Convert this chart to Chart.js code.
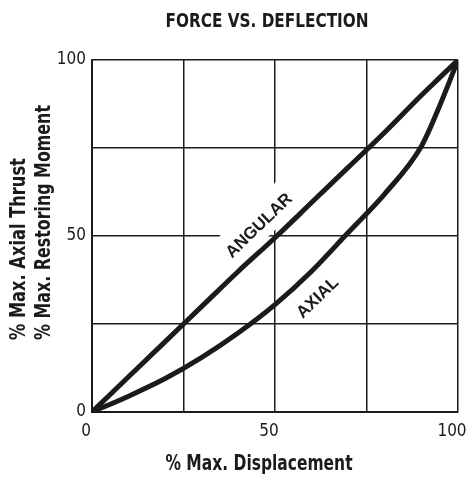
<!DOCTYPE html>
<html lang="en">
<head>
<meta charset="UTF-8">
<title>Force vs. Deflection</title>
<script src="https://cdn.jsdelivr.net/npm/chart.js@4.4.1/dist/chart.umd.min.js"></script>
<style>
  html, body { margin: 0; padding: 0; background: #fff; }
</style>
</head>
<body>
<canvas id="grafica" width="467" height="477"></canvas>
<script>
// valores (% de maximo)
const displacement = [0, 10, 20, 30, 40, 50, 60, 70, 80, 90, 95, 100];
const angular = [0, 10, 20, 30, 40, 49.5, 59.5, 69.5, 79.5, 90, 95, 100];
const axial = [0, 4.5, 9.5, 15.5, 22.5, 30.5, 40, 51, 62, 75.5, 87, 100];
const tickValues = [0, 50, 100];

const titleText = 'FORCE VS. DEFLECTION';
const xTitle = '% Max. Displacement';
const yTitle = ['% Max. Axial Thrust', '% Max. Restoring Moment'];
const curveNames = ['ANGULAR', 'AXIAL'];

const ink = '#1b1b1b';
const narrow = '"DejaVu Sans Condensed", "Liberation Sans Narrow", sans-serif';

function toPoints(ys) {
  return displacement.map((d, i) => ({ x: d, y: ys[i] }));
}

// texto estrechado a mano (no hay fuente condensada de verdad)
function squeezeText(ctx, text, x, y, sx) {
  ctx.save();
  ctx.translate(x, y);
  ctx.scale(sx, 1);
  ctx.fillText(text, 0, 0);
  ctx.restore();
}

// textos: titulo, titulos de ejes y etiquetas de las curvas
const textPlugin = {
  id: 'chartText',
  beforeDatasetsDraw(chart) {
    // fondo blanco detras de ANGULAR (tapa la reticula)
    const { ctx, scales: { x, y } } = chart;
    const ang = Math.atan2(y.getPixelForValue(100) - y.getPixelForValue(0), x.getPixelForValue(100) - x.getPixelForValue(0));
    ctx.save();
    ctx.translate(x.getPixelForValue(45.7), y.getPixelForValue(52.9));
    ctx.rotate(ang);
    ctx.fillStyle = '#fff';
    ctx.fillRect(-45, -20, 90, 34);
    ctx.restore();
  },
  afterDraw(chart) {
    const { ctx, chartArea: ca, scales: { x, y } } = chart;
    const ang = Math.atan2(y.getPixelForValue(100) - y.getPixelForValue(0), x.getPixelForValue(100) - x.getPixelForValue(0));
    const mid = (ca.left + ca.right) / 2;
    ctx.save();
    ctx.fillStyle = ink;
    ctx.textBaseline = 'middle';

    ctx.textAlign = 'center';
    ctx.font = 'bold 20px ' + narrow;
    squeezeText(ctx, titleText, mid - 8, 22, 0.85);

    ctx.font = 'bold 21px ' + narrow;
    squeezeText(ctx, xTitle, mid - 16, ca.bottom + 53, 0.82);

    // titulo eje y, dos lineas alineadas abajo
    ctx.save();
    ctx.translate(0, ca.bottom - 72);
    ctx.rotate(-Math.PI / 2);
    ctx.textAlign = 'left';
    squeezeText(ctx, yTitle[0], 0, 20, 0.86);
    squeezeText(ctx, yTitle[1], 0, 45, 0.84);
    ctx.restore();

    ctx.textAlign = 'center';
    ctx.font = 'bold 17px "Liberation Sans", Arial, sans-serif';
    ctx.save();
    ctx.translate(x.getPixelForValue(45.7), y.getPixelForValue(52.9));
    ctx.rotate(ang);
    ctx.fillText(curveNames[0], 0, 0);
    ctx.restore();

    ctx.save();
    ctx.translate(x.getPixelForValue(61.7), y.getPixelForValue(32.4));
    ctx.rotate(ang);
    ctx.fillText(curveNames[1], 0, 0);
    ctx.restore();

    ctx.restore();
  }
};

const tickFont = { family: narrow, size: 17 };

const ctx = document.getElementById('grafica').getContext('2d');
new Chart(ctx, {
  type: 'line',
  data: {
    datasets: [{
      label: curveNames[0],
      data: toPoints(angular),
      borderColor: ink,
      borderWidth: 5,
      pointRadius: 0,
      cubicInterpolationMode: 'monotone',
      fill: false
    }, {
      label: curveNames[1],
      data: toPoints(axial),
      borderColor: ink,
      borderWidth: 5,
      pointRadius: 0,
      cubicInterpolationMode: 'monotone',
      fill: false
    }]
  },
  options: {
    responsive: false,
    animation: false,
    layout: { padding: { top: 60, right: 9, left: 0, bottom: 0 } },
    plugins: {
      legend: { display: false },
      tooltip: { enabled: false },
      title: { display: false }
    },
    scales: {
      x: {
        type: 'linear',
        min: 0,
        max: 100,
        ticks: {
          stepSize: 25,
          autoSkip: false,
          maxRotation: 0,
          padding: 9,
          labelOffset: -6,
          color: ink,
          font: tickFont,
          callback: v => tickValues.includes(v) ? v : ''
        },
        grid: { color: ink, lineWidth: 1.5, drawTicks: false },
        border: { color: ink, width: 2 },
        afterFit: s => { s.height = 65; s.paddingLeft = 0; s.paddingRight = 0; }
      },
      y: {
        type: 'linear',
        min: 0,
        max: 100,
        ticks: {
          stepSize: 25,
          autoSkip: false,
          padding: 6,
          color: ink,
          font: tickFont,
          callback: v => tickValues.includes(v) ? v : ''
        },
        grid: { color: ink, lineWidth: 1.5, drawTicks: false },
        border: { color: ink, width: 2 },
        afterFit: s => { s.width = 92; s.paddingTop = 0; s.paddingBottom = 0; }
      }
    }
  },
  plugins: [textPlugin]
});
</script>
</body>
</html>
